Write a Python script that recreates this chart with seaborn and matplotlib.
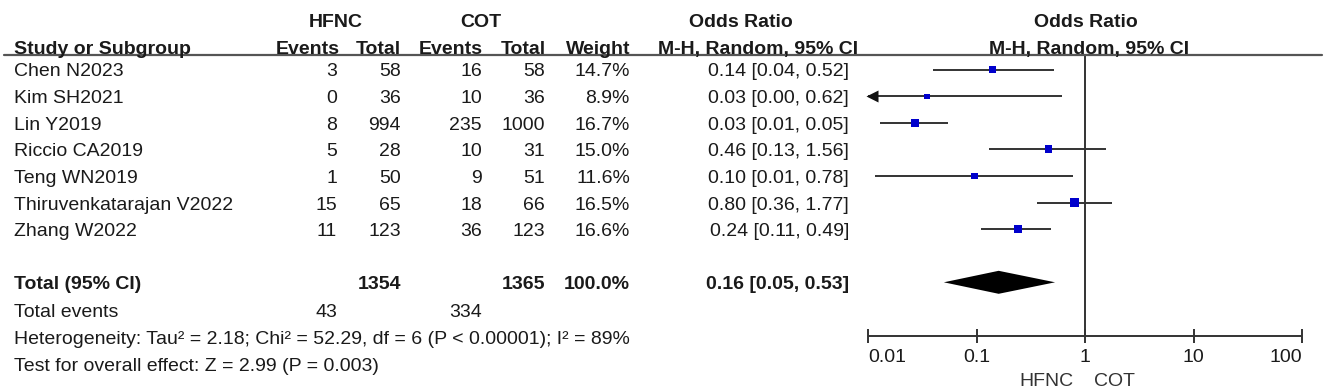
import numpy as np
import pandas as pd
import matplotlib
matplotlib.use("Agg")
import matplotlib.pyplot as plt
from matplotlib.lines import Line2D
import seaborn as sns

# ---------------- data ----------------
studies = ["Chen N2023", "Kim SH2021", "Lin Y2019", "Riccio CA2019",
           "Teng WN2019", "Thiruvenkatarajan V2022", "Zhang W2022"]
hfnc_events = [3, 0, 8, 5, 1, 15, 11]
hfnc_total = [58, 36, 994, 28, 50, 65, 123]
cot_events = [16, 10, 235, 10, 9, 18, 36]
cot_total = [58, 36, 1000, 31, 51, 66, 123]
weights = [14.7, 8.9, 16.7, 15.0, 11.6, 16.5, 16.6]
or_labels = ["0.14 [0.04, 0.52]", "0.03 [0.00, 0.62]", "0.03 [0.01, 0.05]",
             "0.46 [0.13, 1.56]", "0.10 [0.01, 0.78]", "0.80 [0.36, 1.77]",
             "0.24 [0.11, 0.49]"]
or_point = [0.14, 0.035, 0.027, 0.46, 0.096, 0.80, 0.24]
ci_low = [0.04, 0.00, 0.013, 0.13, 0.0115, 0.36, 0.11]
ci_high = [0.52, 0.62, 0.055, 1.56, 0.78, 1.77, 0.49]

total_label = "Total (95% CI)"
total_hfnc = 1354
total_cot = 1365
total_weight = "100.0%"
total_or_label = "0.16 [0.05, 0.53]"
total_or, total_lo, total_hi = 0.16, 0.05, 0.53
events_hfnc_sum = 43
events_cot_sum = 334
heterogeneity = "Heterogeneity: Tau\u00b2 = 2.18; Chi\u00b2 = 52.29, df = 6 (P < 0.00001); I\u00b2 = 89%"
overall = "Test for overall effect: Z = 2.99 (P = 0.003)"
x_ticks = [0.01, 0.1, 1, 10, 100]
x_tick_labels = ["0.01", "0.1", "1", "10", "100"]
favours = ["HFNC", "COT"]

# ---------------- layout ----------------
W, H = 1325, 392
sns.set_theme(style="white")
plt.rcParams["font.family"] = ["Liberation Sans", "DejaVu Sans"]
FS = 14
TXT = "#1a1a1a"
LINE = "#333333"

fig = plt.figure(figsize=(W / 100, H / 100), dpi=100)
fig.patch.set_facecolor("white")


def T(x, y, s, ha="left", bold=False, color=TXT, size=FS):
    fig.text(x / W, 1 - (y + 7) / H, s, ha=ha, va="baseline",
             fontsize=size, fontweight="bold" if bold else "normal", color=color)


row0, dy = 69.5, 26.6
rows = [row0 + dy * i for i in range(len(studies))]
y_total = row0 + dy * 8
y_events = row0 + dy * 9 + 1
y_het = row0 + dy * 10 + 1.5
y_test = row0 + dy * 11 + 2

# columns (right edges)
c_name, c_he, c_ht, c_ce, c_ct, c_w, c_or = 14, 337, 401, 482, 545, 630, 849

# headers
T(336, 20, "HFNC", ha="center", bold=True)
T(481, 20, "COT", ha="center", bold=True)
T(741, 20, "Odds Ratio", ha="center", bold=True)
T(1086, 20, "Odds Ratio", ha="center", bold=True)
hy = 47
T(c_name, hy, "Study or Subgroup", bold=True)
T(c_he + 3, hy, "Events", ha="right", bold=True)
T(c_ht, hy, "Total", ha="right", bold=True)
T(c_ce + 1, hy, "Events", ha="right", bold=True)
T(c_ct + 1, hy, "Total", ha="right", bold=True)
T(c_w, hy, "Weight", ha="right", bold=True)
T(858, hy, "M-H, Random, 95% CI", ha="right", bold=True)
T(1089, hy, "M-H, Random, 95% CI", ha="center", bold=True)
fig.add_artist(Line2D([4 / W, 1322 / W], [1 - 55 / H, 1 - 55 / H],
                      color="#555555", lw=1.6))

# study rows
for i, y in enumerate(rows):
    T(c_name, y, studies[i])
    T(c_he, y, str(hfnc_events[i]), ha="right")
    T(c_ht, y, str(hfnc_total[i]), ha="right")
    T(c_ce, y, str(cot_events[i]), ha="right")
    T(c_ct, y, str(cot_total[i]), ha="right")
    T(c_w, y, f"{weights[i]:.1f}%", ha="right")
    T(c_or, y, or_labels[i], ha="right")

T(c_name, y_total, total_label, bold=True)
T(c_ht, y_total, str(total_hfnc), ha="right", bold=True)
T(c_ct, y_total, str(total_cot), ha="right", bold=True)
T(c_w, y_total, total_weight, ha="right", bold=True)
T(c_or, y_total, total_or_label, ha="right", bold=True)
T(c_name, y_events, "Total events")
T(c_he, y_events, str(events_hfnc_sum), ha="right")
T(c_ce, y_events, str(events_cot_sum), ha="right")
T(c_name, y_het, heterogeneity)
T(c_name, y_test, overall)

# ---------------- forest panel ----------------
x0, x1 = 868, 1302
ax = fig.add_axes([x0 / W, 0, (x1 - x0) / W, 1])
ax.set_xscale("log")
ax.set_xlim(x_ticks[0], x_ticks[-1])
ax.set_ylim(H, 0)
ax.axis("off")

df = pd.DataFrame({"study": studies, "or": or_point, "lo": ci_low,
                   "hi": ci_high, "w": weights, "y": rows})
xmin = x_ticks[0]
ax.hlines(df["y"], np.maximum(df["lo"], xmin), df["hi"], color=LINE, lw=1.4, zorder=2)
clipped = df[df["lo"] < xmin]
ax.plot(np.full(len(clipped), xmin * 1.09), clipped["y"], marker="<", ls="none",
        ms=8, color="#111111", mec="none", zorder=3, clip_on=False)
sns.scatterplot(data=df, x="or", y="y", size="w", sizes=(14, 36),
                size_norm=(min(weights), max(weights)), marker="s",
                color="#0000cc", edgecolor="none", legend=False, ax=ax, zorder=4)

# line of no effect
axis_y = 336
ax.vlines(1, 55, axis_y, color=LINE, lw=1.4, zorder=1)

# diamond
dh = 11.5
ax.fill([total_lo, total_or, total_hi, total_or],
        [y_total, y_total - dh, y_total, y_total + dh], color="black", lw=0, zorder=3)

# x axis
ax.hlines(axis_y, x_ticks[0], x_ticks[-1], color=LINE, lw=1.4, clip_on=False)
ax.vlines(x_ticks, axis_y - 7, axis_y + 7, color=LINE, lw=1.4, clip_on=False)
for k, (xt, lab) in enumerate(zip(x_ticks, x_tick_labels)):
    ha = "left" if k == 0 else ("right" if k == len(x_ticks) - 1 else "center")
    ax.text(xt, 357, lab, ha=ha, va="center", fontsize=FS, color=TXT)
ax.text(0.44, 381, favours[0], ha="center", va="center", fontsize=FS, color="#333333")
ax.text(1.89, 381, favours[1], ha="center", va="center", fontsize=FS, color="#333333")

fig.savefig("out.png", dpi=100, facecolor="white")
